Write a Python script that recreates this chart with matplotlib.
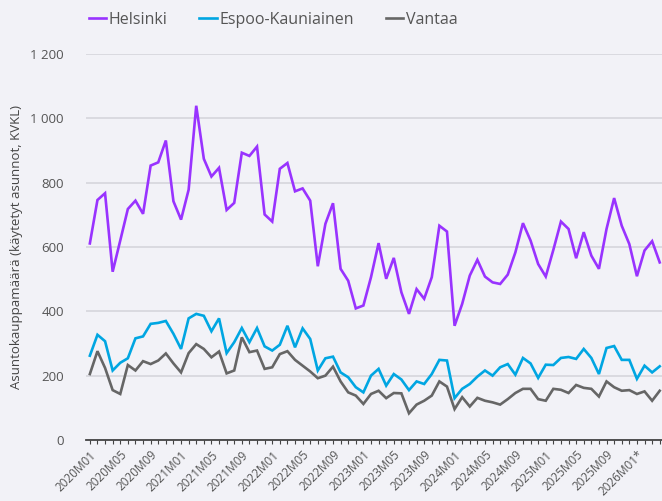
import numpy as np
import matplotlib.pyplot as plt
from matplotlib.ticker import FuncFormatter, MultipleLocator

# Monthly transaction counts 2020M01 .. 2026M04
helsinki = [611, 746, 767, 523, 620, 718, 744, 703, 853, 863, 931, 742,
            685, 778, 1039, 874, 819, 846, 715, 737, 893, 883, 912, 701,
            679, 843, 861, 773, 782, 744, 540, 672, 736, 532, 495, 409,
            418, 506, 612, 501, 566, 459, 392, 469, 439, 506, 666, 648,
            355, 423, 511, 560, 508, 490, 485, 514, 583, 674, 620, 547,
            508, 591, 679, 656, 565, 646, 573, 532, 656, 752, 666, 609,
            509, 589, 618, 552]
espoo = [262, 327, 307, 216, 240, 254, 316, 322, 361, 364, 370, 330,
         283, 378, 392, 386, 338, 378, 270, 304, 348, 304, 348, 291,
         278, 296, 355, 288, 347, 314, 216, 254, 259, 210, 195, 164,
         148, 200, 221, 169, 205, 188, 155, 182, 174, 205, 249, 247,
         130, 159, 174, 197, 216, 200, 226, 236, 203, 255, 238, 193,
         234, 233, 255, 258, 252, 283, 255, 205, 286, 292, 249, 249,
         190, 231, 210, 229]
vantaa = [205, 276, 224, 155, 143, 233, 216, 245, 236, 247, 269, 238,
          210, 270, 298, 283, 257, 275, 207, 216, 319, 273, 278, 221,
          226, 267, 276, 249, 231, 213, 192, 200, 228, 182, 148, 138,
          112, 143, 153, 130, 146, 145, 83, 110, 122, 138, 182, 166,
          96, 133, 104, 131, 122, 117, 110, 127, 146, 159, 159, 127,
          122, 159, 156, 146, 171, 162, 159, 135, 182, 164, 153, 155,
          143, 151, 122, 153]

series_names = ["Helsinki", "Espoo-Kauniainen", "Vantaa"]
colors = ["#9933FF", "#00A6E2", "#666666"]

months = [f"{y}M{m:02d}" for y in range(2020, 2027) for m in range(1, 13)][:len(helsinki)]
tick_idx = list(range(0, len(months), 4))
tick_labels = [months[i] + ("*" if months[i].startswith("2026") else "") for i in tick_idx]

bg = "#F2F2F7"
plt.rcParams["font.family"] = ["Open Sans", "DejaVu Sans"]

fig = plt.figure(figsize=(6.62, 5.01), dpi=100, facecolor=bg)
ax = fig.add_axes([0.13, 0.1218, 0.87, 0.7705], facecolor=bg)

x = np.arange(len(helsinki))
for vals, name, c in zip([helsinki, espoo, vantaa], series_names, colors):
    ax.plot(x, vals, color=c, lw=1.9, label=name, solid_joinstyle="miter")

ax.set_xlim(-0.5, len(helsinki) - 0.7)
ax.set_ylim(0, 1200)
ax.yaxis.set_major_locator(MultipleLocator(200))
ax.yaxis.set_major_formatter(FuncFormatter(lambda v, p: f"{v:,.0f}".replace(",", " ")))
ax.grid(axis="y", color="#D6D6DC", lw=1.2)
ax.set_axisbelow(True)

for s in ["top", "right", "left"]:
    ax.spines[s].set_visible(False)
ax.spines["bottom"].set_color("#444444")
ax.spines["bottom"].set_linewidth(1.3)

ax.set_xticks(tick_idx)
ax.set_xticklabels(tick_labels, rotation=45, ha="right", rotation_mode="anchor")
ax.set_xticks(x, minor=True)
ax.tick_params(axis="x", which="both", length=3, width=0.8, color="#444444",
               labelsize=8.5, labelcolor="#555555", pad=3)
ax.tick_params(axis="y", length=0, labelsize=9.5, labelcolor="#555555", pad=16)

ax.set_ylabel("Asuntokauppamäärä (käytetyt asunnot, KVKL)", fontsize=9.5,
              color="#444444", labelpad=5)

fig.legend(loc="upper left", bbox_to_anchor=(0.112, 1.005), ncol=3, frameon=False,
           fontsize=11.5, handlelength=1.1, handletextpad=0.15, columnspacing=2.0,
           labelcolor="#555555")

fig.savefig("out.png", dpi=100, facecolor=bg)
